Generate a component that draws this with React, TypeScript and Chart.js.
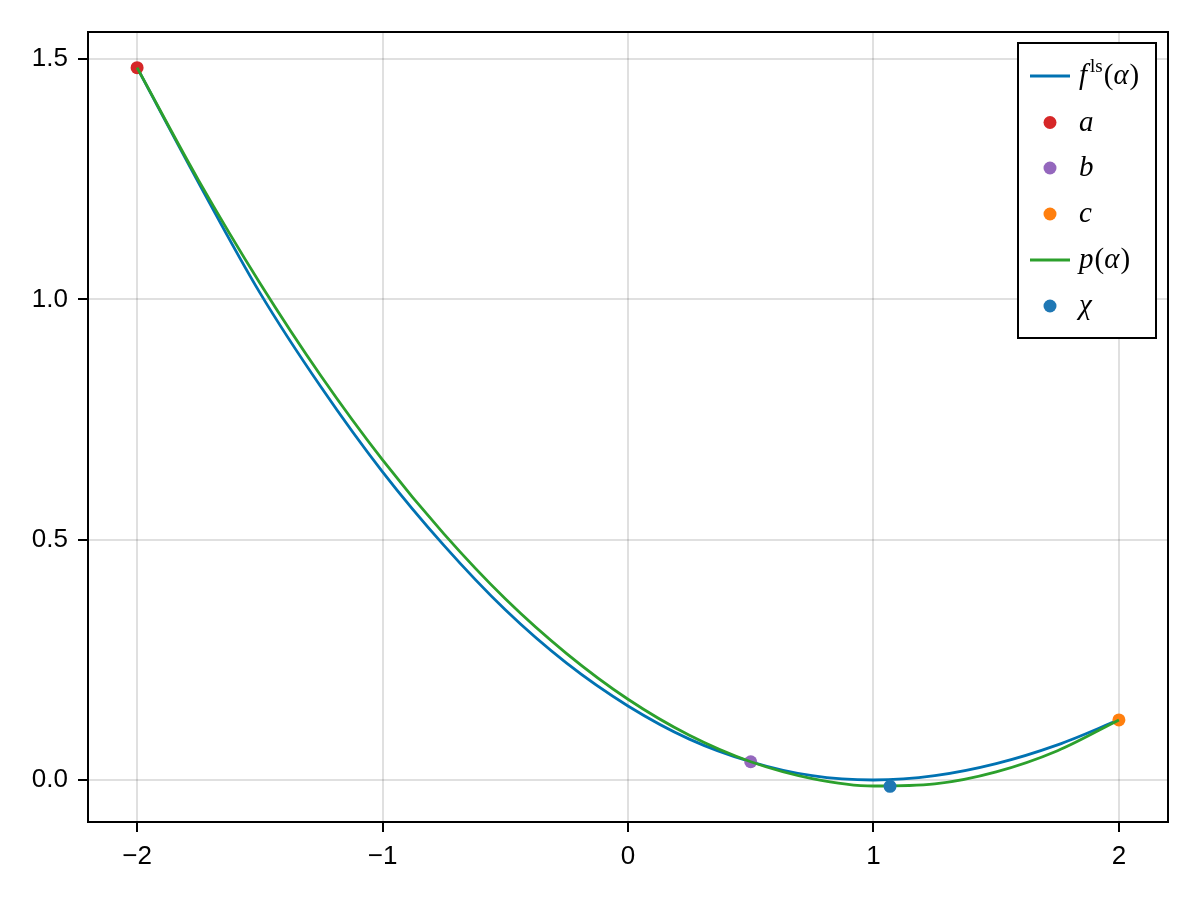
import React, { useEffect, useRef } from "react";
import { Chart, registerables } from "chart.js";

Chart.register(...registerables);

// ---- data ----
const alphaGrid = [-2, -1.75, -1.5, -1.25, -1, -0.75, -0.5, -0.25, 0, 0.25, 0.5, 0.75, 1, 1.25, 1.5, 1.75, 2];
const fValues = [1.482, 1.243, 1.014, 0.817, 0.641, 0.488, 0.354, 0.243, 0.154, 0.085, 0.038, 0.009, 0.0, 0.009, 0.034, 0.073, 0.125];
const pValues = [1.482, 1.248, 1.034, 0.84, 0.666, 0.512, 0.377, 0.263, 0.168, 0.093, 0.038, 0.003, -0.0125, -0.008, 0.017, 0.061, 0.125];

const pointNames = ["a", "b", "c"];
const pointX = [-2, 0.5, 2];
const pointY = [1.482, 0.038, 0.125];
const chiX = [1.0675];
const chiY = [-0.0132];

const xTicks = [-2, -1, 0, 1, 2];
const xTickLabels = ["\u22122", "\u22121", "0", "1", "2"];
const yTicks = [0, 0.5, 1, 1.5];
const yTickLabels = ["0.0", "0.5", "1.0", "1.5"];

const COLORS = {
  f: "#0072b2",
  a: "#d62728",
  b: "#9467bd",
  c: "#ff7f0e",
  p: "#2ca02c",
  chi: "#1f77b4",
};

const SERIF = "'Liberation Serif', 'DejaVu Serif', serif";

const framePlugin = {
  id: "frame",
  afterDatasetsDraw(chart: any) {
    const { ctx, chartArea } = chart;
    ctx.save();
    ctx.strokeStyle = "#000";
    ctx.lineWidth = 2;
    ctx.strokeRect(chartArea.left, chartArea.top, chartArea.right - chartArea.left, chartArea.bottom - chartArea.top);
    ctx.restore();
  },
};

const legendPlugin = {
  id: "mathLegend",
  afterDraw(chart: any) {
    const ctx = chart.ctx as CanvasRenderingContext2D;
    const boxL = 1018, boxT = 43, boxW = 138, boxH = 295;
    ctx.save();
    ctx.fillStyle = "#fff";
    ctx.fillRect(boxL, boxT, boxW, boxH);
    ctx.strokeStyle = "#000";
    ctx.lineWidth = 2;
    ctx.strokeRect(boxL, boxT, boxW, boxH);

    const rows = [76, 122.5, 168, 214, 260, 306];
    const entries: { kind: "line" | "dot"; color: string; label: string }[] = [
      { kind: "line", color: COLORS.f, label: "fls" },
      { kind: "dot", color: COLORS.a, label: pointNames[0] },
      { kind: "dot", color: COLORS.b, label: pointNames[1] },
      { kind: "dot", color: COLORS.c, label: pointNames[2] },
      { kind: "line", color: COLORS.p, label: "p" },
      { kind: "dot", color: COLORS.chi, label: "\u03c7" },
    ];
    const size = 29;
    entries.forEach((e, i) => {
      const y = rows[i];
      if (e.kind === "line") {
        ctx.strokeStyle = e.color;
        ctx.lineWidth = 3;
        ctx.beginPath();
        ctx.moveTo(1030, y);
        ctx.lineTo(1070, y);
        ctx.stroke();
      } else {
        ctx.fillStyle = e.color;
        ctx.beginPath();
        ctx.arc(1050, y, 6.5, 0, Math.PI * 2);
        ctx.fill();
      }
      ctx.fillStyle = "#000";
      ctx.textBaseline = "alphabetic";
      ctx.textAlign = "left";
      const base = y + 8;
      let x = 1079;
      const draw = (t: string, font: string, dy = 0) => {
        ctx.font = font;
        ctx.fillText(t, x, base + dy);
        x += ctx.measureText(t).width;
      };
      const it = `italic ${size}px ${SERIF}`;
      const up = `${size}px ${SERIF}`;
      if (e.label === "fls") {
        draw("f", it);
        x += 3;
        draw("ls", `${Math.round(size * 0.66)}px ${SERIF}`, -12);
        x += 1;
        draw("(", up);
        draw("\u03b1", it);
        x += 1;
        draw(")", up);
      } else if (e.label === "p") {
        draw("p", it);
        x += 1;
        draw("(", up);
        draw("\u03b1", it);
        x += 1;
        draw(")", up);
      } else {
        draw(e.label, it);
      }
    });
    ctx.restore();
  },
};

export default function App() {
  const ref = useRef<HTMLCanvasElement | null>(null);
  useEffect(() => {
    if (!ref.current) return;
    const linePts = (ys: number[]) => alphaGrid.map((x, i) => ({ x, y: ys[i] }));
    const dot = (i: number) => [{ x: pointX[i], y: pointY[i] }];
    const dotDs = (label: string, data: any[], color: string, order: number) => ({
      label,
      data,
      showLine: false,
      pointRadius: 6.5,
      pointHoverRadius: 6.5,
      pointBorderWidth: 0,
      pointBackgroundColor: color,
      borderColor: color,
      backgroundColor: color,
      order,
    });
    const chart = new Chart(ref.current, {
      type: "line",
      data: {
        datasets: [
          {
            label: "f",
            data: linePts(fValues),
            borderColor: COLORS.f,
            borderWidth: 2.8,
            pointRadius: 0,
            cubicInterpolationMode: "monotone",
            fill: false,
            order: 6,
          },
          dotDs("a", dot(0), COLORS.a, 5),
          dotDs("b", dot(1), COLORS.b, 4),
          dotDs("c", dot(2), COLORS.c, 3),
          {
            label: "p",
            data: linePts(pValues),
            borderColor: COLORS.p,
            borderWidth: 2.8,
            pointRadius: 0,
            cubicInterpolationMode: "monotone",
            fill: false,
            order: 2,
          },
          dotDs("chi", chiX.map((x, i) => ({ x, y: chiY[i] })), COLORS.chi, 1),
        ] as any,
      },
      options: {
        animation: false,
        responsive: false,
        devicePixelRatio: 1,
        layout: { padding: { left: 0, top: 32, right: 32, bottom: 0 } },
        plugins: { legend: { display: false }, tooltip: { enabled: false } },
        events: [],
        scales: {
          x: {
            type: "linear",
            min: -2.2,
            max: 2.2,
            afterBuildTicks: (s: any) => {
              s.ticks = xTicks.map((v) => ({ value: v }));
            },
            afterFit: (s: any) => {
              s.height = 78;
            },
            grid: {
              color: "rgba(0,0,0,0.12)",
              lineWidth: 2,
              drawTicks: true,
              tickLength: 10,
              tickColor: "#000",
              tickWidth: 2,
            },
            border: { display: true, color: "#000", width: 2 },
            ticks: {
              autoSkip: false,
              maxRotation: 0,
              padding: 9,
              color: "#000",
              font: { family: "'Liberation Sans', Arial, sans-serif", size: 26 },
              callback: (_v: any, i: number) => xTickLabels[i],
            },
          },
          y: {
            type: "linear",
            min: -0.0874,
            max: 1.5562,
            afterBuildTicks: (s: any) => {
              s.ticks = yTicks.map((v) => ({ value: v }));
            },
            afterFit: (s: any) => {
              s.width = 88;
            },
            grid: {
              color: "rgba(0,0,0,0.12)",
              lineWidth: 2,
              drawTicks: true,
              tickLength: 10,
              tickColor: "#000",
              tickWidth: 2,
            },
            border: { display: true, color: "#000", width: 2 },
            ticks: {
              autoSkip: false,
              padding: 10,
              color: "#000",
              font: { family: "'Liberation Sans', Arial, sans-serif", size: 26 },
              callback: (_v: any, i: number) => yTickLabels[i],
            },
          },
        },
      } as any,
      plugins: [framePlugin, legendPlugin],
    });
    return () => chart.destroy();
  }, []);
  return (
    <div style={{ position: "absolute", left: 0, top: 0, width: 1200, height: 900, background: "#fff" }}>
      <canvas ref={ref} width={1200} height={900} style={{ display: "block", width: 1200, height: 900 }} />
    </div>
  );
}
